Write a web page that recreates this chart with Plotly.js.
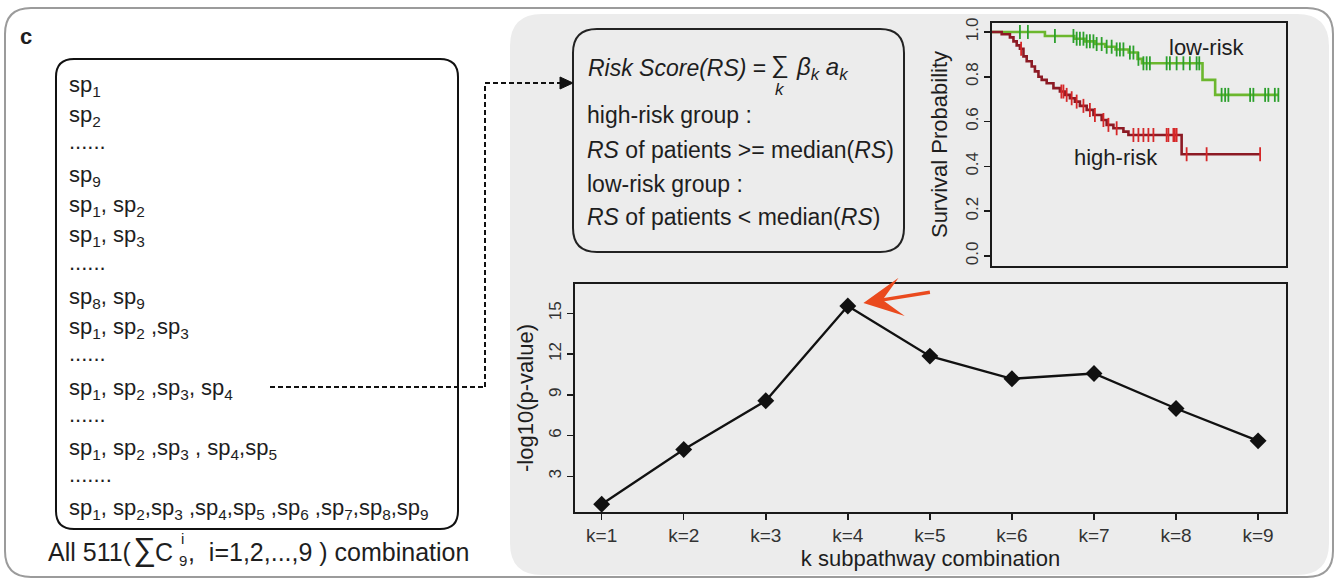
<!DOCTYPE html>
<html>
<head>
<meta charset="utf-8">
<script src="https://cdn.plot.ly/plotly-3.0.1.min.js"></script>
<style>html,body{margin:0;padding:0;background:#fff;}#chart{width:1338px;height:580px;}</style>
</head>
<body>
<div id="chart"></div>
<script>
// ---------------- data ----------------
const kValues = [1, 2, 3, 4, 5, 6, 7, 8, 9];
const kLabels = ['k=1', 'k=2', 'k=3', 'k=4', 'k=5', 'k=6', 'k=7', 'k=8', 'k=9'];
const negLogP = [0.94, 4.97, 8.56, 15.54, 11.85, 10.18, 10.57, 7.99, 5.61];

const lowRiskTime = [0, 18.0, 28.0, 31.5, 35.0, 38.5, 42.0, 46.5, 49.5, 51.0, 71.6, 75.9, 97.4];
const lowRiskSurv = [1.0, 0.982, 0.970, 0.958, 0.946, 0.934, 0.922, 0.908, 0.880, 0.860, 0.786, 0.719, 0.719];
const lowRiskCensor = [9.5, 12.2, 21.4, 27.7, 28.8, 29.9, 31.1, 32.2, 33.3, 34.5, 35.6, 37.3, 39.0, 40.7, 42.4, 43.5, 44.7, 46.9, 48.1, 49.8, 51.5, 52.6, 53.7, 59.4, 60.5, 62.8, 65.1, 67.3, 69.6, 70.5, 78.1, 79.3, 80.4, 87.8, 88.9, 92.9, 94.0, 96.2, 97.4];

const highRiskTime = [0, 3.3, 6.1, 7.3, 8.4, 9.5, 10.7, 11.8, 13.5, 14.6, 15.8, 16.9, 18.6, 20.9, 23.1, 24.8, 26.5, 28.2, 29.9, 32.2, 34.5, 37.3, 39.0, 41.3, 44.7, 46.4, 64.5, 91.2];
const highRiskSurv = [1.0, 0.990, 0.976, 0.958, 0.940, 0.925, 0.891, 0.869, 0.846, 0.824, 0.800, 0.786, 0.771, 0.749, 0.734, 0.719, 0.704, 0.689, 0.670, 0.652, 0.629, 0.607, 0.585, 0.570, 0.555, 0.540, 0.454, 0.454];
const highRiskCensor = [9.9, 23.6, 24.3, 25.4, 27.1, 28.8, 31.1, 33.3, 35.0, 37.9, 39.6, 42.4, 48.1, 49.8, 51.5, 53.2, 54.9, 59.4, 60.0, 61.7, 62.2, 62.8, 66.2, 73.0, 91.2];

const combos = [
  'sp<sub>1</sub>', 'sp<sub>2</sub>', '......', 'sp<sub>9</sub>',
  'sp<sub>1</sub>, sp<sub>2</sub>', 'sp<sub>1</sub>, sp<sub>3</sub>', '......',
  'sp<sub>8</sub>, sp<sub>9</sub>', 'sp<sub>1</sub>, sp<sub>2</sub> ,sp<sub>3</sub>', '......',
  'sp<sub>1</sub>, sp<sub>2</sub> ,sp<sub>3</sub>, sp<sub>4</sub>', '......',
  'sp<sub>1</sub>, sp<sub>2</sub> ,sp<sub>3</sub> , sp<sub>4</sub>,sp<sub>5</sub>', '.......',
  'sp<sub>1</sub>, sp<sub>2</sub>,sp<sub>3</sub> ,sp<sub>4</sub>,sp<sub>5</sub> ,sp<sub>6</sub> ,sp<sub>7</sub>,sp<sub>8</sub>,sp<sub>9</sub>'
];

// ---------------- helpers ----------------
const W = 1338, H = 580;
const FONT = 'Liberation Sans, Arial, Helvetica, sans-serif';
const TXT = '#1e1e1e';
const GREEN = '#6cb72e', RED = '#8c1a24';
function px(x) { return x / W; }
function py(y) { return 1 - y / H; }
function P(x, y) { return px(x).toFixed(5) + ',' + py(y).toFixed(5); }
function rrect(x0, y0, x1, y1, r) {
  return 'M' + P(x0 + r, y0) + ' L' + P(x1 - r, y0) + ' Q' + P(x1, y0) + ' ' + P(x1, y0 + r) +
    ' L' + P(x1, y1 - r) + ' Q' + P(x1, y1) + ' ' + P(x1 - r, y1) +
    ' L' + P(x0 + r, y1) + ' Q' + P(x0, y1) + ' ' + P(x0, y1 - r) +
    ' L' + P(x0, y0 + r) + ' Q' + P(x0, y0) + ' ' + P(x0 + r, y0) + ' Z';
}
function survAt(times, surv, t) {
  let s = surv[0];
  for (let i = 0; i < times.length; i++) { if (times[i] <= t) s = surv[i]; }
  return s;
}
function note(text, x, y, size, opts) {
  return Object.assign({
    text: text, xref: 'paper', yref: 'paper', x: px(x), y: py(y),
    xanchor: 'left', yanchor: 'middle', showarrow: false,
    font: { family: FONT, size: size, color: TXT }
  }, opts || {});
}

// ---------------- traces ----------------
const traces = [
  { x: lowRiskTime, y: lowRiskSurv, xaxis: 'x', yaxis: 'y', mode: 'lines',
    line: { shape: 'hv', color: GREEN, width: 2.6 }, hoverinfo: 'skip', showlegend: false },
  { x: highRiskTime, y: highRiskSurv, xaxis: 'x', yaxis: 'y', mode: 'lines',
    line: { shape: 'hv', color: RED, width: 2.6 }, hoverinfo: 'skip', showlegend: false },
  { x: lowRiskCensor, y: lowRiskCensor.map(t => survAt(lowRiskTime, lowRiskSurv, t)), xaxis: 'x', yaxis: 'y',
    mode: 'markers', marker: { symbol: 'line-ns-open', size: 10, line: { color: GREEN, width: 1.8 } },
    hoverinfo: 'skip', showlegend: false },
  { x: highRiskCensor, y: highRiskCensor.map(t => survAt(highRiskTime, highRiskSurv, t)), xaxis: 'x', yaxis: 'y',
    mode: 'markers', marker: { symbol: 'line-ns-open', size: 10, line: { color: RED, width: 1.8 } },
    hoverinfo: 'skip', showlegend: false },
  { x: kValues, y: negLogP, xaxis: 'x2', yaxis: 'y2', mode: 'lines+markers',
    line: { color: '#111', width: 2.3 }, marker: { symbol: 'diamond', size: 13, color: '#111' },
    hoverinfo: 'skip', showlegend: false }
];

// ---------------- shapes ----------------
const dash = { color: '#111', width: 2, dash: '5px,3px' };
const shapes = [
  { type: 'path', xref: 'paper', yref: 'paper', layer: 'below', path: rrect(5, 8, 1333, 577, 26),
    line: { color: '#9b9b9b', width: 2 }, fillcolor: '#ffffff' },
  { type: 'path', xref: 'paper', yref: 'paper', layer: 'below', path: rrect(510, 14, 1329, 575, 32),
    line: { color: '#ececec', width: 0 }, fillcolor: '#ececec' },
  { type: 'path', xref: 'paper', yref: 'paper', layer: 'below', path: rrect(56, 59, 458, 529, 18),
    line: { color: '#111', width: 2 }, fillcolor: 'rgba(0,0,0,0)' },
  { type: 'path', xref: 'paper', yref: 'paper', layer: 'below', path: rrect(573, 29, 904, 252, 24),
    line: { color: '#222', width: 2 }, fillcolor: 'rgba(0,0,0,0)' },
  { type: 'line', xref: 'paper', yref: 'paper', x0: px(270), y0: py(387), x1: px(485), y1: py(387), line: dash },
  { type: 'line', xref: 'paper', yref: 'paper', x0: px(485), y0: py(387), x1: px(485), y1: py(83), line: dash },
  { type: 'line', xref: 'paper', yref: 'paper', x0: px(485), y0: py(83), x1: px(562), y1: py(83), line: dash },
  { type: 'path', xref: 'paper', yref: 'paper', path: 'M' + P(560, 77) + ' L' + P(573, 83) + ' L' + P(560, 89) + ' Z',
    line: { color: '#111', width: 1 }, fillcolor: '#111' }
];

// ---------------- annotations ----------------
const listY = [85, 115, 146, 175, 205, 235, 267, 297, 327, 358, 388, 419, 448, 479, 508];
const annotations = [];
annotations.push(note('<b>c</b>', 18, 37, 22));
combos.forEach((c, i) => {
  annotations.push(note(c, 67, listY[i] + (c[0] === '.' ? -5 : 1), 22));
});
// caption below the list box
annotations.push(note('All 511(', 46, 552, 25));
annotations.push(note('\u2211', 131, 549, 32));
annotations.push(note('C', 153, 552, 25));
annotations.push(note('i', 179, 538, 15));
annotations.push(note('9', 177, 560, 15));
annotations.push(note(',  i=1,2,...,9 ) combination', 186, 552, 25));
// formula box
annotations.push(note('<i>Risk Score(RS)</i> =', 586, 68, 23));
annotations.push(note('\u2211', 780, 65, 25, { xanchor: 'center' }));
annotations.push(note('<i>k</i>', 780, 90, 17, { xanchor: 'center' }));
annotations.push(note('<i>\u03B2<sub>k</sub> a<sub>k</sub></i>', 794, 68, 24));
annotations.push(note('high-risk group :', 585, 115, 23));
annotations.push(note('<i>RS</i> of patients >= median(<i>RS</i>)', 585, 150, 23));
annotations.push(note('low-risk group :', 585, 184, 23));
annotations.push(note('<i>RS</i> of patients < median(<i>RS</i>)', 585, 217, 23));
// KM labels
annotations.push({ text: 'low-risk', xref: 'x', yref: 'y', x: 73.1, y: 0.93, showarrow: false,
  font: { family: FONT, size: 22, color: TXT } });
annotations.push({ text: 'high-risk', xref: 'x', yref: 'y', x: 42.2, y: 0.438, showarrow: false,
  font: { family: FONT, size: 22, color: TXT } });
// red arrow pointing at the best k
annotations.push({ text: '', xref: 'x2', yref: 'y2', x: 4.19, y: 15.76, ax: 68, ay: -11,
  showarrow: true, arrowhead: 3, arrowsize: 1.9, arrowwidth: 3.4, arrowcolor: '#ea4a1e', standoff: 0 });

// ---------------- layout ----------------
const axisCommon = { showline: true, mirror: true, linecolor: '#1a1a1a', linewidth: 1.6,
  showgrid: false, zeroline: false, fixedrange: true };
const layout = {
  width: W, height: H, margin: { l: 0, r: 0, t: 0, b: 0 },
  paper_bgcolor: '#ffffff', plot_bgcolor: 'rgba(0,0,0,0)',
  font: { family: FONT, color: TXT },
  showlegend: false,
  xaxis: Object.assign({}, axisCommon, { domain: [px(992), px(1286)], range: [0, 100],
    ticks: '', showticklabels: false, anchor: 'y' }),
  yaxis: Object.assign({}, axisCommon, { domain: [py(266), py(23)], range: [-0.045, 1.04],
    tickvals: [0, 0.2, 0.4, 0.6, 0.8, 1.0], tickformat: '.1f', ticks: 'outside', ticklen: 6,
    tickwidth: 1.5, tickcolor: '#1a1a1a', tickangle: -90, tickfont: { family: FONT, size: 17, color: '#333' },
    anchor: 'x', automargin: false,
    title: { text: 'Survival Probability', font: { family: FONT, size: 22, color: TXT }, standoff: 9 } }),
  xaxis2: Object.assign({}, axisCommon, { domain: [px(575), px(1286)], range: [0.675, 9.34],
    tickvals: kValues, ticktext: kLabels, ticks: 'outside', ticklen: 6, tickwidth: 1.5, tickcolor: '#1a1a1a',
    tickfont: { family: FONT, size: 19, color: '#333' }, anchor: 'y2', automargin: false,
    title: { text: 'k subpathway combination', font: { family: FONT, size: 22, color: TXT }, standoff: 2 } }),
  yaxis2: Object.assign({}, axisCommon, { domain: [py(512), py(284)], range: [0.37, 17.16],
    tickvals: [3, 6, 9, 12, 15], ticks: 'outside', ticklen: 6, tickwidth: 1.5, tickcolor: '#1a1a1a',
    tickangle: -90, tickfont: { family: FONT, size: 17, color: '#333' }, anchor: 'x2', automargin: false,
    title: { text: '-log10(p-value)', font: { family: FONT, size: 22, color: TXT }, standoff: 6 } }),
  shapes: shapes,
  annotations: annotations
};

Plotly.newPlot('chart', traces, layout, { staticPlot: true, displayModeBar: false });
</script>
</body>
</html>
